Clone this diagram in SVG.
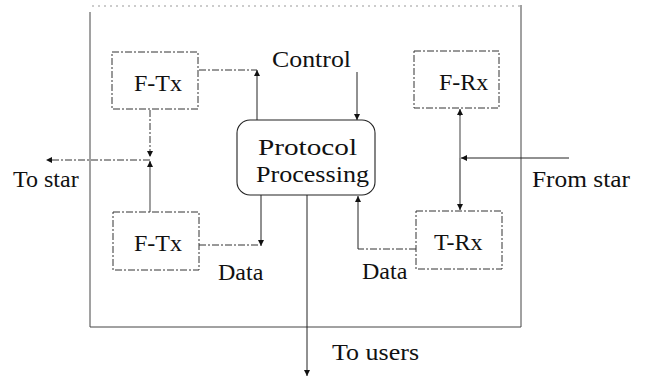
<svg xmlns="http://www.w3.org/2000/svg" width="645" height="379" viewBox="0 0 645 379">
  <style>
    .bg { fill: #ffffff; }
    .box { fill: none; stroke: #333; stroke-width: 1; stroke-dasharray: 7 2 2 2; }
    .pp { fill: none; stroke: #222; stroke-width: 1.1; }
    .ln { fill: none; stroke: #222; stroke-width: 1; }
    .dl { fill: none; stroke: #333; stroke-width: 1; stroke-dasharray: 7 2 2 2; }
    .gray { fill: none; stroke: #777; stroke-width: 1.4; }
    .frame { fill: none; stroke: #444; stroke-width: 1; }
    .frametop { fill: none; stroke: #999; stroke-width: 1; stroke-dasharray: 2 4; }
    .lbl { font-family: "Liberation Serif", "Times New Roman", serif; font-size: 24px; fill: #111; }
  </style>
  <defs>
    <marker id="ah" viewBox="0 0 10 10" refX="10" refY="5" markerWidth="7" markerHeight="6" markerUnits="userSpaceOnUse" orient="auto">
      <path d="M0,0 L10,5 L0,10 z" fill="#111"/>
    </marker>
  </defs>
  <rect class="bg" x="0" y="0" width="645" height="379"/>

  <!-- enclosing station frame -->
  <g id="frame">
    <path class="frametop" d="M92,6 L521,6"/>
    <path class="frame" d="M90,12 L90,327 L521,327 L521,5"/>
  </g>

  <!-- connectors -->
  <g id="connectors">
    <!-- control path: F-Tx (top) to protocol box -->
    <path class="dl" d="M199,70 L257,70"/>
    <path class="ln" d="M257,120 L257,70" marker-end="url(#ah)"/>
    <path class="ln" d="M357,72 L357,120" marker-end="url(#ah)"/>
    <!-- transmitters to star -->
    <path class="dl" d="M150,110 L150,157" marker-end="url(#ah)"/>
    <path class="gray" d="M150,212 L150,162"/>
    <path class="ln" d="M150,167 L150,161" marker-end="url(#ah)"/>
    <path class="dl" d="M150,160 L46,160" marker-end="url(#ah)"/>
    <!-- data out to lower F-Tx -->
    <path class="ln" d="M261,195 L261,246" marker-end="url(#ah)"/>
    <path class="dl" d="M199,245 L258,245"/>
    <!-- data in from T-Rx -->
    <path class="dl" d="M416,249 L358,249"/>
    <path class="ln" d="M358,249 L358,196" marker-end="url(#ah)"/>
    <!-- from star to receivers -->
    <path class="ln" d="M569,158 L461,158" marker-end="url(#ah)"/>
    <path class="gray" d="M460,158 L460,112"/>
    <path class="ln" d="M460,116 L460,109" marker-end="url(#ah)"/>
    <path class="ln" d="M460,158 L460,210" marker-end="url(#ah)"/>
    <!-- to users -->
    <path class="ln" d="M307,195 L307,376" marker-end="url(#ah)"/>
  </g>

  <!-- nodes -->
  <g id="ftx-top">
    <rect class="box" x="112" y="52" width="86" height="57"/>
    <text class="lbl" x="134" y="91">F-Tx</text>
  </g>
  <g id="ftx-bottom">
    <rect class="box" x="113" y="212" width="86" height="58"/>
    <text class="lbl" x="134" y="251">F-Tx</text>
  </g>
  <g id="frx">
    <rect class="box" x="414" y="51" width="85" height="57"/>
    <text class="lbl" x="439" y="90">F-Rx</text>
  </g>
  <g id="trx">
    <rect class="box" x="416" y="211" width="86" height="58"/>
    <text class="lbl" x="434" y="250">T-Rx</text>
  </g>
  <g id="protocol">
    <rect class="pp" x="237" y="120" width="138" height="75" rx="13" ry="13"/>
    <text class="lbl" x="258" y="155" textLength="99" lengthAdjust="spacingAndGlyphs">Protocol</text>
    <text class="lbl" x="256" y="182" textLength="113" lengthAdjust="spacingAndGlyphs">Processing</text>
  </g>

  <!-- labels -->
  <g id="labels">
    <text class="lbl" x="272" y="67" textLength="79" lengthAdjust="spacingAndGlyphs">Control</text>
    <text class="lbl" x="13" y="187">To star</text>
    <text class="lbl" x="532" y="187" textLength="98" lengthAdjust="spacingAndGlyphs">From star</text>
    <text class="lbl" x="218" y="280">Data</text>
    <text class="lbl" x="362" y="279">Data</text>
    <text class="lbl" x="332" y="360" textLength="87" lengthAdjust="spacingAndGlyphs">To users</text>
  </g>
</svg>
